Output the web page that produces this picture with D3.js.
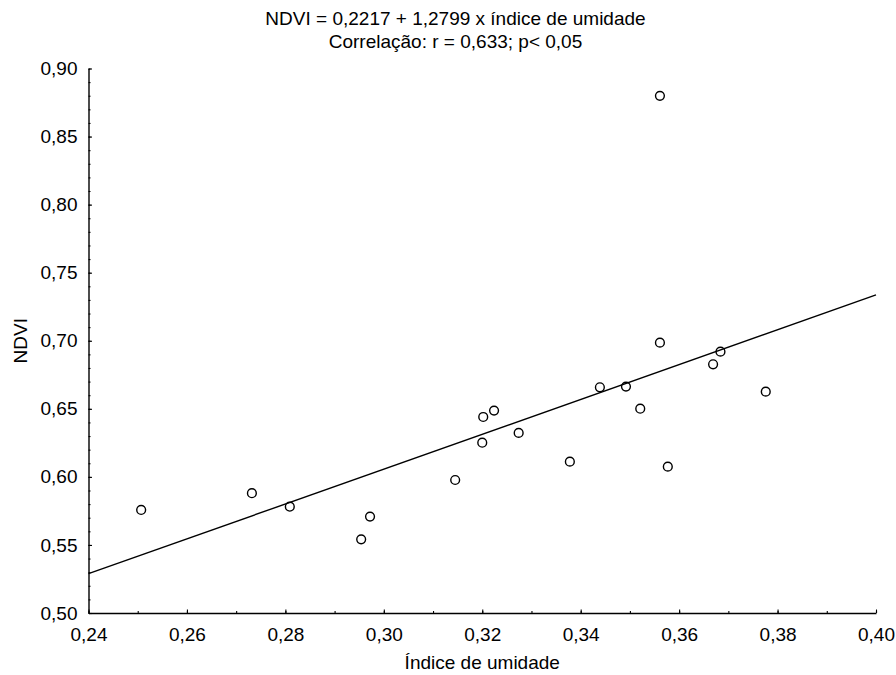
<!DOCTYPE html>
<html>
<head>
<meta charset="utf-8">
<script src="https://cdn.jsdelivr.net/npm/d3@7"></script>
<style>
  html, body { margin: 0; padding: 0; background: #fff; }
  svg { display: block; font-family: "Liberation Sans", Arial, sans-serif; }
</style>
</head>
<body>
<svg id="chart" width="896" height="675"></svg>
<script>
// Índice de umidade (x) and NDVI (y) for each sample
const umidade = [0.2507, 0.2732, 0.2809, 0.2954, 0.2972, 0.3145, 0.3200, 0.3202, 0.3224, 0.3274,
                 0.3378, 0.3439, 0.3492, 0.3521, 0.3561, 0.3561, 0.3577, 0.3669, 0.3684, 0.3776];
const ndvi    = [0.5757, 0.5880, 0.5781, 0.5541, 0.5708, 0.5977, 0.6251, 0.6440, 0.6487, 0.6323,
                 0.6112, 0.6658, 0.6663, 0.6501, 0.6986, 0.8799, 0.6075, 0.6827, 0.6920, 0.6626];

// Linear fit: NDVI = a + b * umidade
const intercept = 0.2217;
const slope = 1.2799;

const xMajorTicks = [0.24, 0.26, 0.28, 0.30, 0.32, 0.34, 0.36, 0.38, 0.40];
const yMajorTicks = [0.50, 0.55, 0.60, 0.65, 0.70, 0.75, 0.80, 0.85, 0.90];
const xMinorTicks = d3.range(0, 17).map(i => 0.24 + i * 0.01);
const yMinorTicks = d3.range(0, 41).map(i => 0.50 + i * 0.01);

const titleLines = ["NDVI = 0,2217 + 1,2799 x índice de umidade", "Correlação: r = 0,633; p< 0,05"];
const xTitle = "Índice de umidade";
const yTitle = "NDVI";

const FS = 19;
const svg = d3.select("#chart");
const fmt = d => d3.format(".2f")(d).replace(".", ",");

const x = d3.scaleLinear().domain([0.24, 0.40]).range([88.5, 876]);
const y = d3.scaleLinear().domain([0.50, 0.90]).range([613, 68.5]);

// x axis: minor and major ticks point inward, labels below
const gx = svg.append("g").attr("transform", `translate(0,${y(0.5)})`);
gx.call(d3.axisTop(x).tickValues(xMinorTicks).tickSize(2).tickFormat(""))
  .call(g => g.select(".domain").remove());
gx.append("g").call(d3.axisTop(x).tickValues(xMajorTicks).tickSize(3.5).tickFormat(""))
  .call(g => g.select(".domain").remove());
gx.append("g").call(d3.axisBottom(x).tickValues(xMajorTicks).tickSize(0).tickPadding(15).tickFormat(fmt))
  .call(g => g.select(".domain").attr("stroke", "#000").attr("stroke-width", 1.4))
  .call(g => g.selectAll("text").attr("font-size", FS).attr("fill", "#000")
     .attr("font-family", "Liberation Sans, Arial, sans-serif"));

// y axis: minor and major ticks point inward, labels left
const gy = svg.append("g").attr("transform", `translate(${x(0.24)},0)`);
gy.call(d3.axisRight(y).tickValues(yMinorTicks).tickSize(2).tickFormat(""))
  .call(g => g.select(".domain").remove());
gy.append("g").call(d3.axisRight(y).tickValues(yMajorTicks).tickSize(3.5).tickFormat(""))
  .call(g => g.select(".domain").remove());
gy.append("g").call(d3.axisLeft(y).tickValues(yMajorTicks).tickSize(0).tickPadding(11).tickFormat(fmt))
  .call(g => g.select(".domain").attr("stroke", "#000").attr("stroke-width", 1.4))
  .call(g => g.selectAll("text").attr("font-size", FS).attr("fill", "#000")
     .attr("font-family", "Liberation Sans, Arial, sans-serif"));

svg.selectAll(".tick line").attr("stroke", "#000").attr("stroke-width", 1.1);

// regression line across the x domain
const fit = x.domain().map(v => [v, intercept + slope * v]);
svg.append("path")
  .datum(fit)
  .attr("fill", "none")
  .attr("stroke", "#000")
  .attr("stroke-width", 1.4)
  .attr("d", d3.line().x(d => x(d[0])).y(d => y(d[1])));

// observations
svg.append("g").selectAll("circle")
  .data(d3.zip(umidade, ndvi))
  .join("circle")
  .attr("cx", d => x(d[0]))
  .attr("cy", d => y(d[1]))
  .attr("r", 4.4)
  .attr("fill", "none")
  .attr("stroke", "#000")
  .attr("stroke-width", 1.4);

// titles
svg.append("g").selectAll("text")
  .data(titleLines)
  .join("text")
  .attr("x", 455.5)
  .attr("y", (d, i) => 25 + i * 23)
  .attr("text-anchor", "middle")
  .attr("font-size", FS)
  .text(d => d);

svg.append("text")
  .attr("x", (x.range()[0] + x.range()[1]) / 2)
  .attr("y", 669)
  .attr("text-anchor", "middle")
  .attr("font-size", FS)
  .text(xTitle);

svg.append("text")
  .attr("transform", `translate(27,${(y.range()[0] + y.range()[1]) / 2}) rotate(-90)`)
  .attr("text-anchor", "middle")
  .attr("font-size", FS)
  .text(yTitle);
</script>
</body>
</html>
